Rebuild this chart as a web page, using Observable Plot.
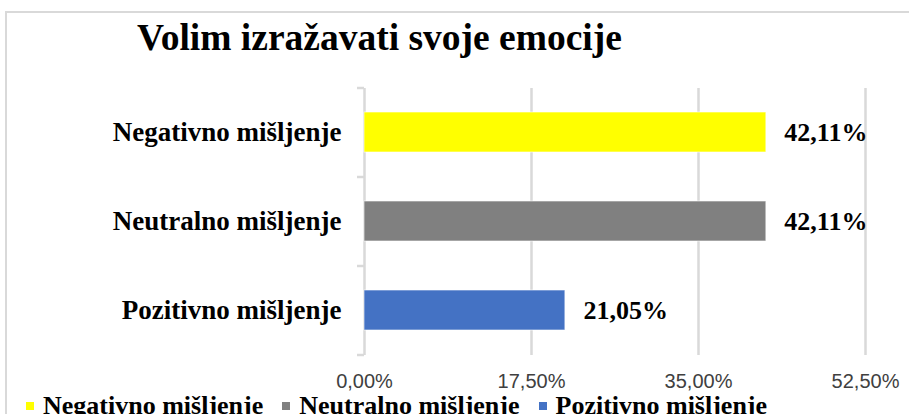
<!DOCTYPE html>
<html>
<head>
<meta charset="utf-8">
<script src="https://cdn.jsdelivr.net/npm/d3@7"></script>
<script src="https://cdn.jsdelivr.net/npm/@observablehq/plot@0.6"></script>
<style>
  html, body { margin: 0; padding: 0; background: #fff; overflow: hidden; }
  #page { position: relative; width: 909px; height: 414px; overflow: hidden; background: #fff; }
  #frame { position: absolute; left: 5px; top: 11px; width: 1000px; height: 500px; border: 2px solid #d9d9d9; box-sizing: border-box; }
  #title { position: absolute; left: 137px; top: 19px; font-family: "Liberation Serif", "Times New Roman", serif; font-weight: bold; font-size: 37.5px; line-height: 37px; color: #000; white-space: nowrap; }
  #chart { position: absolute; left: 0; top: 70px; }
  #legend { position: absolute; left: 26px; top: 393px; font-family: "Liberation Serif", "Times New Roman", serif; font-weight: bold; font-size: 26px; line-height: 26px; color: #000; white-space: nowrap; }
  .sw { display: inline-block; width: 8px; height: 8px; vertical-align: 4px; margin-right: 9px; }
  .item { margin-right: 19px; }
</style>
</head>
<body>
<div id="page">
  <div id="frame"></div>
  <div id="title"></div>
  <div id="chart"></div>
  <div id="legend"></div>
</div>
<script>
const title = "Volim izražavati svoje emocije";
const categories = ["Negativno mišljenje", "Neutralno mišljenje", "Pozitivno mišljenje"];
const values = [0.4211, 0.4211, 0.2105];
const colors = ["#FFFF00", "#808080", "#4472C4"];
const xTicks = [0, 0.175, 0.35, 0.525];

const fmt = (d) => (d * 100).toFixed(2).replace(".", ",") + "%";
const data = categories.map((c, i) => ({cat: c, value: values[i]}));

document.getElementById("title").textContent = title;

const serif = "Liberation Serif, Times New Roman, serif";
const step = (355 - 88) / categories.length;

const chart = Plot.plot({
  width: 909,
  height: 330,
  marginTop: 18,
  marginBottom: 45,
  marginLeft: 364,
  marginRight: 44,
  style: {fontFamily: serif, background: "transparent", overflow: "visible"},
  x: {domain: [0, 0.525]},
  y: {domain: categories, paddingInner: 0.55, paddingOuter: 0.275},
  color: {domain: categories, range: colors},
  marks: [
    Plot.ruleX(xTicks, {x: d => d, stroke: "#d9d9d9", strokeWidth: 2.5}),
    Plot.ruleY(categories, {y: d => d, x1: 0, x2: 0, insetLeft: -7, dy: -step / 2, stroke: "#d9d9d9", strokeWidth: 2.5}),
    Plot.ruleY(categories.slice(-1), {y: d => d, x1: 0, x2: 0, insetLeft: -7, dy: step / 2, stroke: "#d9d9d9", strokeWidth: 2.5}),
    Plot.barX(data, {x: "value", y: "cat", fill: "cat", stroke: "#ffffff", strokeOpacity: 0.6, strokeWidth: 1}),
    Plot.text(data, {x: "value", y: "cat", text: d => fmt(d.value), dx: 18, textAnchor: "start", fontSize: 26, fontWeight: "bold", fill: "#000", fontFamily: serif}),
    Plot.axisY({tickSize: 0, tickPadding: 23, fontSize: 27, fontWeight: "bold", fill: "#000", label: null, fontFamily: serif}),
    Plot.axisX({ticks: xTicks, tickFormat: fmt, tickSize: 0, tickPadding: 17.8, fontSize: 20, fill: "#404040", label: null, fontFamily: "Liberation Sans, Arial, sans-serif"})
  ]
});
document.getElementById("chart").appendChild(chart);

const legend = document.getElementById("legend");
categories.forEach((c, i) => {
  const sw = document.createElement("span");
  sw.className = "sw";
  sw.style.background = colors[i];
  const t = document.createElement("span");
  t.className = "item";
  t.textContent = c;
  legend.appendChild(sw);
  legend.appendChild(t);
});
</script>
</body>
</html>
